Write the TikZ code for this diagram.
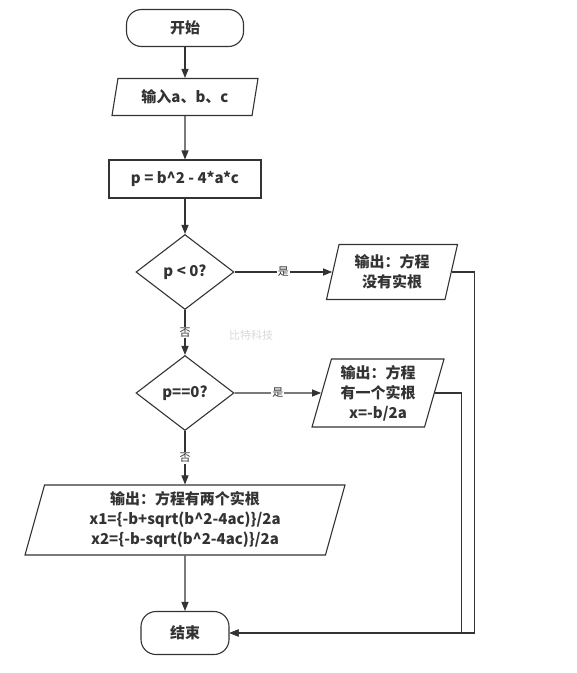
\documentclass[tikz,border=0pt]{standalone}
\usepackage{fontspec}
\setmainfont{Noto Sans CJK SC}
\usepackage{xcolor}
\usetikzlibrary{shapes.geometric, arrows.meta}
\usetikzlibrary{positioning}
\definecolor{linegray}{HTML}{333333}

\begin{document}
\begin{tikzpicture}[->,>={Triangle[length=9pt,width=7pt]},x=1pt,y=-1pt,line width=1.1pt,draw=linegray]
		\tikzstyle{every node}=[text=linegray,font=\bfseries\fontsize{15}{20}\selectfont,align=center]
		\tikzstyle{startstop}=[draw=linegray,rectangle,rounded corners=15pt,minimum width=117pt,minimum height=37pt]
		\tikzstyle{io}=[draw=linegray,trapezium,trapezium left angle=72,trapezium right angle=108,trapezium stretches body,inner sep=2pt]
		\tikzstyle{process}=[draw=linegray,rectangle,minimum width=152pt,minimum height=38pt]
		\tikzstyle{decision}=[draw=linegray,diamond,inner sep=0pt,minimum width=98pt,minimum height=75pt]
		\tikzstyle{yesno}=[fill=white,inner sep=1pt,font=\fontsize{11}{13}\selectfont]
		\useasboundingbox (0,0) rectangle (577,673);
		\node[startstop] (start) at (185,28)                                       {开始};
		\node[io]        (in)[below of=start, node distance=69pt,minimum width=146pt,minimum height=37pt] {输入a、b、c};
		\node[process]   (p)[below of=in, node distance=82pt]                      {p = b\textasciicircum 2 - 4*a*c};
		\node[decision]  (d1)[below of=p, node distance=93pt]                      {p < 0?};
		\node[decision]  (d2)[below of=d1, node distance=121pt]                    {p==0?};
		\node[io]        (o3)[below of=d2, node distance=127pt,minimum width=320pt,minimum height=70pt] {输出：方程有两个实根\\x1=\{-b+sqrt(b\textasciicircum 2-4ac)\}/2a\\x2=\{-b-sqrt(b\textasciicircum 2-4ac)\}/2a};
		\node[startstop] (stop)[below of=o3, node distance=113pt,minimum width=88pt,minimum height=43pt] {结束};
		\node[io]        (o1)[right of=d1, node distance=207pt,minimum width=131pt,minimum height=55pt] {输出：方程\\没有实根};
		\node[io]        (o2)[right of=d2, node distance=193pt,minimum width=132pt,minimum height=68pt] {输出：方程\\有一个实根\\x=-b/2a};
		\node[text=gray!30,font=\fontsize{11}{13}\selectfont] (wm) at (251,335) {比特科技};
		\path
		(start) edge (in)
		(in) edge (p)
		(p) edge (d1)
		(d1) edge node[yesno] {是} (o1)
		(d1) edge node[yesno] {否} (d2)
		(d2) edge node[yesno] {是} (o2)
		(d2) edge node[yesno] {否} (o3)
		(o3) edge (stop);
		\draw (o1.east) -- ++(23,0) |- (stop.east);
		\draw (o2.east) -- ++(27,0) |- (stop.east);
	\end{tikzpicture}
\end{document}
